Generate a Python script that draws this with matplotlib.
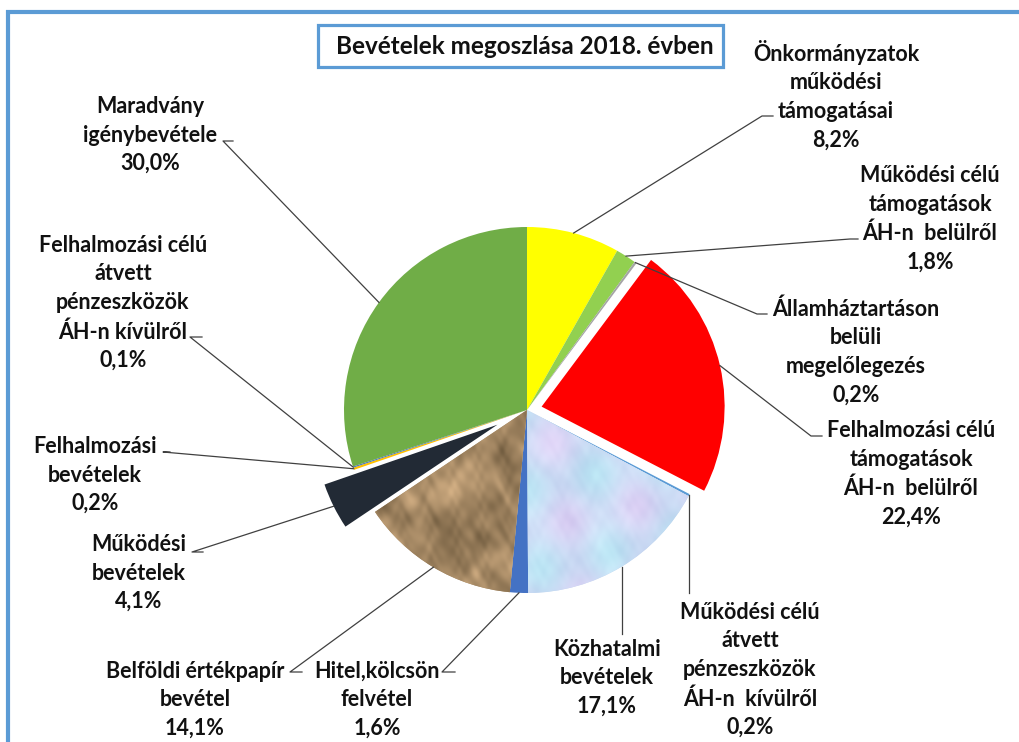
import numpy as np
import matplotlib
matplotlib.use('Agg')
import matplotlib.pyplot as plt
from matplotlib.patches import Rectangle

plt.rcParams['font.family'] = ['Lato', 'DejaVu Sans']

# Bevételek megoszlása 2018 (%)
categories = [
    'Önkormányzatok\nműködési\ntámogatásai',
    'Működési célú\ntámogatások\nÁH-n  belülről',
    'Államháztartáson\nbelüli\nmegelőlegezés',
    'Felhalmozási célú\ntámogatások\nÁH-n  belülről',
    'Működési célú\nátvett\npénzeszközök\nÁH-n  kívülről',
    'Közhatalmi\nbevételek',
    'Hitel,kölcsön\nfelvétel',
    'Belföldi értékpapír\nbevétel',
    'Működési\nbevételek',
    'Felhalmozási\nbevételek',
    'Felhalmozási célú\nátvett\npénzeszközök\nÁH-n kívülről',
    'Maradvány\nigénybevétele',
]
values = [8.2, 1.8, 0.2, 22.4, 0.2, 17.1, 1.6, 14.1, 4.1, 0.2, 0.1, 30.0]
colors = ['#FFFF00', '#92D050', '#A5A5A5', '#FF0000', '#5B9BD5', '#C5D9F1',
          '#4472C4', '#A68A64', '#222A35', '#FFC000', '#4472C4', '#70AD47']
# explode offsets in pixels (matplotlib uses data units)
explode = [0, 0, 0, 15, 0, 0, 0, 0, 33, 0, 0, 0]
title = 'Bevételek megoszlása 2018. évben'

# label block centres and leader tails (pixel coords, y down)
label_pos = [(836, 95), (930, 219), (856, 352), (911, 474), (750, 670), (607, 678),
             (377, 700), (195, 700), (139, 573), (95, 475), (123, 303), (150, 135)]
tails = [[(773, 116), (762, 116)], [(858, 239), (850, 239)], [(767, 314), (757, 314)],
         [(822, 436), (811, 436)], ['v', 593], ['v', 634],
         [(455, 672), (442, 672)], [(302, 672), (290, 672)], [(203, 552), (192, 552)],
         [(170, 452), (163, 452)], [(202, 337), (190, 337)], [(233, 141), (223, 141)]]

BLUE = '#5B9BD5'
FS = 15.5


def texture(kind, n=300):
    yy, xx = np.mgrid[0:n, 0:n] / n
    waves = [(23, 11, 0.4), (-9, 31, 1.3), (41, -27, 2.2), (17, 47, 0.9),
             (-53, 19, 2.8), (67, 61, 1.7), (-91, 83, 0.2), (113, -71, 2.5),
             (151, 97, 1.1), (-173, 139, 0.6)]
    v = np.zeros_like(xx)
    for i, (a, b, p) in enumerate(waves):
        v += np.sin(a * xx + b * yy + p + 1.2 * np.sin(9 * xx * (i + 1) - 7 * yy)) / (1 + 0.25 * i)
    v = v / np.abs(v).max()
    if kind == 'rock':
        base = np.array([0.63, 0.52, 0.38])
        amp = np.array([0.20, 0.17, 0.14])
        rgb = base + v[..., None] * amp
    else:
        u = np.sin(13 * xx - 17 * yy + 1.0) * np.sin(19 * xx + 11 * yy)
        base = np.array([0.80, 0.86, 0.96])
        rgb = base + v[..., None] * np.array([0.05, 0.05, 0.03]) + u[..., None] * np.array([0.06, -0.04, 0.0])
    return np.clip(rgb, 0, 1)


fig = plt.figure(figsize=(10.2, 7.42), dpi=100)
ax = fig.add_axes([0, 0, 1, 1])

wedges, _ = ax.pie(values, colors=colors, explode=explode, startangle=-90, counterclock=True,
                   center=(527, 410), radius=183, wedgeprops=dict(linewidth=0))

for idx, kind in [(5, 'marble'), (7, 'rock')]:
    w = wedges[idx]
    cx, cy = w.center
    r = w.r
    im = ax.imshow(texture(kind), extent=(cx - r, cx + r, cy + r, cy - r), zorder=2,
                   interpolation='bilinear')
    im.set_clip_path(w)

for i, w in enumerate(wedges):
    th = np.deg2rad((w.theta1 + w.theta2) / 2)
    cx, cy = w.center
    px, py = cx + w.r * np.cos(th), cy + w.r * np.sin(th)
    t = tails[i]
    if t[0] == 'v':
        xs, ys = [px, px], [py, t[1]]
    else:
        xs = [t[0][0], t[1][0], px]
        ys = [t[0][1], t[1][1], py]
    ax.plot(xs, ys, color='#404040', lw=0.9, zorder=3)
    pct = f'{values[i]:.1f}'.replace('.', ',') + '%'
    lx, ly = label_pos[i]
    ax.text(lx, ly, categories[i] + '\n' + pct, ha='center', va='center', multialignment='center',
            fontsize=FS, fontweight='bold', color='#111111', linespacing=1.45, zorder=4)

# title box
ax.add_patch(Rectangle((318, 25), 405, 42, facecolor='white', edgecolor=BLUE, lw=2.3, zorder=5))
ax.text(525, 46, title, ha='center', va='center', fontsize=17.5, fontweight='bold',
        color='#111111', zorder=6)

# outer frame (only top and left visible)
ax.plot([6, 1020], [12, 12], color=BLUE, lw=3, solid_capstyle='butt', zorder=6)
ax.plot([8, 8], [10, 742], color=BLUE, lw=3, solid_capstyle='butt', zorder=6)

ax.set_xlim(0, 1020)
ax.set_ylim(742, 0)
ax.set_aspect('auto')
ax.axis('off')

fig.savefig('out.png', dpi=100, facecolor='white')
